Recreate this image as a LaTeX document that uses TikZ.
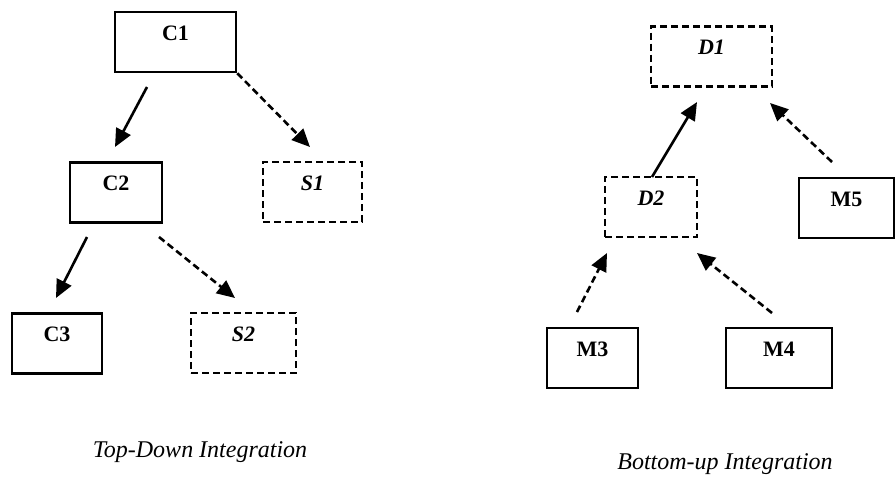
\documentclass[tikz,border=0pt]{standalone}
\usepackage{fontspec}
\setmainfont{Liberation Serif}
\usetikzlibrary{arrows.meta}

\tikzset{
  unit/.style={draw=black, line width=2.5pt, inner sep=0pt,
    font=\fontsize{22}{26}\selectfont\bfseries,
    text height=28pt, text depth=32pt},
  stub/.style={unit, dash pattern=on 7pt off 4pt},
  link/.style={line width=2.6pt, -{Triangle[length=18pt,width=16pt]}},
  stublink/.style={link, dash pattern=on 7pt off 4pt},
  caption/.style={font=\fontsize{24}{29}\selectfont\itshape}
}

\begin{document}
\begin{tikzpicture}[x=1pt,y=-1pt]
  \useasboundingbox (0,0) rectangle (896,483);

  % top-down tree: real components and stubs
  \node[unit, minimum width=121pt] (C1) at (175.5,42) {C1};
  \node[unit, minimum width=92pt]  (C2) at (116,192.5) {C2};
  \node[stub, minimum width=99pt]  (S1) at (312.5,192) {\textit{S1}};
  \node[unit, minimum width=90pt]  (C3) at (57,343.5) {C3};
  \node[stub, minimum width=105pt] (S2) at (243.5,343) {\textit{S2}};

  % bottom-up tree: modules and drivers
  \node[stub, minimum width=121pt] (D1) at (711.5,56.5) {\textit{D1}};
  \node[stub, minimum width=92pt]  (D2) at (651,207) {\textit{D2}};
  \node[unit, minimum width=95pt]  (M5) at (846.5,208) {M5};
  \node[unit, minimum width=91pt]  (M3) at (592.5,358) {M3};
  \node[unit, minimum width=106pt] (M4) at (779,358) {M4};

  % connector end points
  \coordinate (c1a) at (147,87);   \coordinate (c2t) at (115,147);
  \coordinate (c1b) at (C1.south east); \coordinate (s1t) at (310,147);
  \coordinate (c2a) at (87,237);   \coordinate (c3t) at (56,298);
  \coordinate (c2b) at (159,237);  \coordinate (s2t) at (235,298);
  \coordinate (d2a) at (652,177);  \coordinate (d1a) at (697,102);
  \coordinate (m5a) at (832,162);  \coordinate (d1b) at (770,103);
  \coordinate (m3a) at (577,312);  \coordinate (d2b) at (607,253);
  \coordinate (m4a) at (772,313);  \coordinate (d2c) at (697,253);

  \draw[link]     (c1a) -- (c2t);
  \draw[stublink] (c1b) -- (s1t);
  \draw[link]     (c2a) -- (c3t);
  \draw[stublink] (c2b) -- (s2t);

  \draw[link]     (d2a) -- (d1a);
  \draw[stublink] (m5a) -- (d1b);
  \draw[stublink] (m3a) -- (d2b);
  \draw[stublink] (m4a) -- (d2c);

  \node[caption] (td) at (200,452) {Top-Down Integration};
  \node[caption] (bu) at (725,464) {Bottom-up Integration};
\end{tikzpicture}
\end{document}
